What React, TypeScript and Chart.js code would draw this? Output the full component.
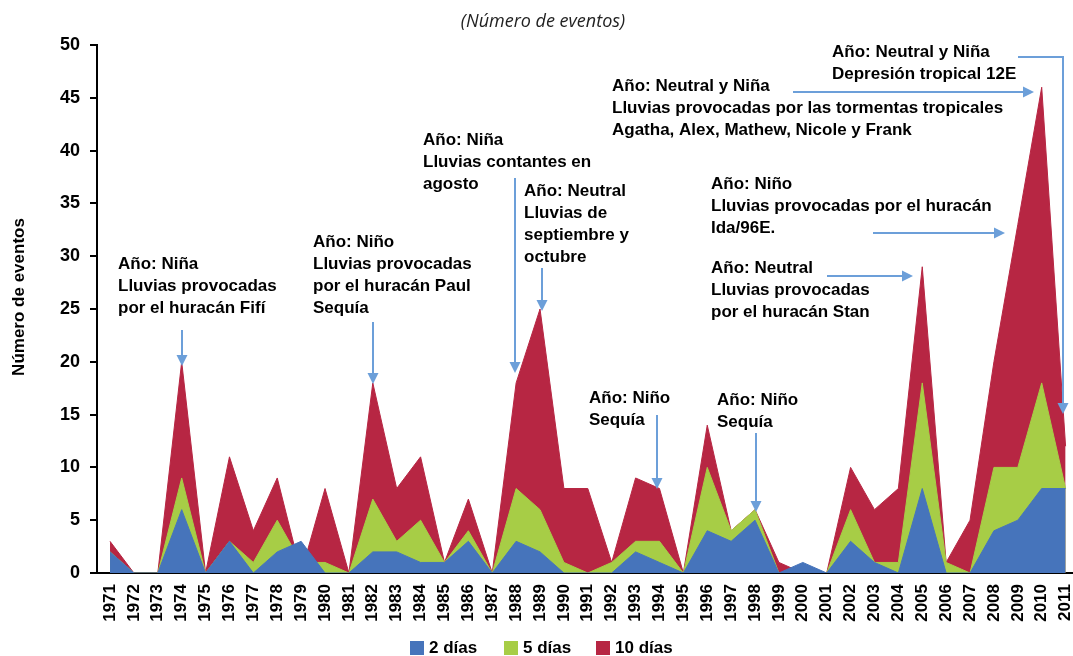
import React, { useEffect, useRef } from 'react';
import { Chart, registerables } from 'chart.js';

Chart.register(...registerables);

const years = [
  1971, 1972, 1973, 1974, 1975, 1976, 1977, 1978, 1979, 1980,
  1981, 1982, 1983, 1984, 1985, 1986, 1987, 1988, 1989, 1990,
  1991, 1992, 1993, 1994, 1995, 1996, 1997, 1998, 1999, 2000,
  2001, 2002, 2003, 2004, 2005, 2006, 2007, 2008, 2009, 2010, 2011,
];

// 2 días
const dias2 = [
  2, 0, 0, 6, 0, 3, 0, 2, 3, 0,
  0, 2, 2, 1, 1, 3, 0, 3, 2, 0,
  0, 0, 2, 1, 0, 4, 3, 5, 0, 1,
  0, 3, 1, 0, 8, 0, 0, 4, 5, 8, 8,
];

// 5 días
const dias5 = [
  2, 0, 0, 9, 0, 3, 1, 5, 1, 1,
  0, 7, 3, 5, 1, 4, 0, 8, 6, 1,
  0, 1, 3, 3, 0, 10, 4, 6, 0, 0,
  0, 6, 1, 1, 18, 1, 0, 10, 10, 18, 8,
];

// 10 días
const dias10 = [
  3, 0, 0, 20, 0, 11, 4, 9, 0, 8,
  0, 18, 8, 11, 1, 7, 0, 18, 25, 8,
  8, 1, 9, 8, 0, 14, 4, 6, 1, 0,
  0, 10, 6, 8, 29, 1, 5, 20, 33, 46, 12,
];

const seriesNames = ['2 días', '5 días', '10 días'];
const yTickValues = [0, 5, 10, 15, 20, 25, 30, 35, 40, 45, 50];

const BLUE = '#4674BB';
const GREEN = '#A7CD46';
const RED = '#B72643';
const ARROW = '#6C9FD9';
const FONT = '"Liberation Sans", Arial, Helvetica, sans-serif';

type Note = { lines: string[]; x: number; y: number };
const notes: Note[] = [
  { lines: ['Año: Niña', 'Lluvias provocadas', 'por el huracán Fifí'], x: 118, y: 269 },
  { lines: ['Año: Niño', 'Lluvias provocadas', 'por el huracán Paul', 'Sequía'], x: 313, y: 247 },
  { lines: ['Año: Niña', 'Lluvias contantes en', 'agosto'], x: 423, y: 145 },
  { lines: ['Año: Neutral', 'Lluvias de', 'septiembre y', 'octubre'], x: 524, y: 196 },
  { lines: ['Año: Neutral y Niña', 'Lluvias provocadas por las tormentas tropicales', 'Agatha, Alex, Mathew, Nicole y Frank'], x: 612, y: 91 },
  { lines: ['Año: Neutral y Niña', 'Depresión tropical 12E'], x: 832, y: 57 },
  { lines: ['Año: Niño', 'Lluvias provocadas por el huracán', 'Ida/96E.'], x: 711, y: 189 },
  { lines: ['Año: Neutral', 'Lluvias provocadas', 'por el huracán Stan'], x: 711, y: 273 },
  { lines: ['Año: Niño', 'Sequía'], x: 589, y: 403 },
  { lines: ['Año: Niño', 'Sequía'], x: 717, y: 405 },
];

// arrow polylines (pixel layout), last point is the tip
const arrows: number[][][] = [
  [[182, 330], [182, 366]],
  [[373, 322], [373, 384]],
  [[515, 178], [515, 373]],
  [[542, 268], [542, 311]],
  [[793, 92], [1034, 92]],
  [[1018, 57], [1063, 57], [1063, 414]],
  [[873, 233], [1005, 233]],
  [[827, 276], [913, 276]],
  [[657, 415], [657, 489]],
  [[756, 433], [756, 512]],
];

const annotationPlugin = {
  id: 'annotations',
  afterDraw(chart: any) {
    const ctx: CanvasRenderingContext2D = chart.ctx;
    ctx.save();
    // title
    ctx.fillStyle = '#222';
    ctx.font = 'italic 18px "Open Sans", sans-serif';
    ctx.textAlign = 'center';
    ctx.textBaseline = 'alphabetic';
    ctx.fillText('(Número de eventos)', 543, 27);

    // y axis title
    ctx.save();
    ctx.translate(24, 297);
    ctx.rotate(-Math.PI / 2);
    ctx.font = 'bold 17px ' + FONT;
    ctx.fillStyle = '#000';
    ctx.textAlign = 'center';
    ctx.fillText('Número de eventos', 0, 0);
    ctx.restore();

    // notes
    ctx.textAlign = 'left';
    ctx.fillStyle = '#000';
    ctx.font = 'bold 17px ' + FONT;
    for (const n of notes) {
      n.lines.forEach((line, i) => {
        ctx.fillText(line, n.x, n.y + i * 22);
      });
    }

    // arrows
    ctx.strokeStyle = ARROW;
    ctx.fillStyle = ARROW;
    ctx.lineWidth = 2;
    for (const pts of arrows) {
      const n = pts.length;
      const [tx, ty] = pts[n - 1];
      const [px, py] = pts[n - 2];
      const ang = Math.atan2(ty - py, tx - px);
      const headLen = 11;
      const headW = 5.5;
      const bx = tx - headLen * Math.cos(ang);
      const by = ty - headLen * Math.sin(ang);
      ctx.beginPath();
      ctx.moveTo(pts[0][0], pts[0][1]);
      for (let i = 1; i < n - 1; i++) ctx.lineTo(pts[i][0], pts[i][1]);
      ctx.lineTo(bx, by);
      ctx.stroke();
      ctx.beginPath();
      ctx.moveTo(tx, ty);
      ctx.lineTo(bx + headW * Math.sin(ang), by - headW * Math.cos(ang));
      ctx.lineTo(bx - headW * Math.sin(ang), by + headW * Math.cos(ang));
      ctx.closePath();
      ctx.fill();
    }

    // legend
    const colors = [BLUE, GREEN, RED];
    const legendX = [410, 504, 596];
    ctx.font = 'bold 17px ' + FONT;
    ctx.textBaseline = 'middle';
    seriesNames.forEach((name, i) => {
      ctx.fillStyle = colors[i];
      ctx.fillRect(legendX[i], 641, 14, 14);
      ctx.fillStyle = '#000';
      ctx.fillText(name, legendX[i] + 19, 648);
    });
    ctx.restore();
  },
};

export default function App() {
  const ref = useRef<HTMLCanvasElement>(null);
  useEffect(() => {
    const canvas = ref.current;
    if (!canvas) return;
    const mk = (d: number[]) => years.map((yr, i) => ({ x: yr, y: d[i] }));
    const ds = (label: string, data: number[], color: string) => ({
      label,
      data: mk(data),
      backgroundColor: color,
      borderColor: color,
      borderWidth: 1,
      fill: 'origin',
      pointRadius: 0,
      tension: 0,
    });
    const chart = new Chart(canvas, {
      type: 'line',
      data: {
        datasets: [
          ds(seriesNames[0], dias2, BLUE),
          ds(seriesNames[1], dias5, GREEN),
          ds(seriesNames[2], dias10, RED),
        ] as any,
      },
      options: {
        responsive: false,
        animation: false,
        layout: { padding: { top: 45, right: 0, bottom: 0, left: 0 } },
        plugins: {
          legend: { display: false },
          tooltip: { enabled: false },
          title: { display: false },
        },
        scales: {
          x: {
            type: 'linear',
            min: years[0] - 0.545,
            max: years[years.length - 1] + 0.31,
            grid: { display: false },
            border: { display: true, color: '#000', width: 2 },
            ticks: {
              stepSize: 1,
              autoSkip: false,
              includeBounds: false,
              maxRotation: 90,
              minRotation: 90,
              padding: 3,
              color: '#000',
              font: { family: FONT, size: 17, weight: 'bold' },
              callback: (v: any) => String(v),
            },
            afterFit: (scale: any) => {
              scale.height = 83;
              scale.paddingLeft = 0;
              scale.paddingRight = 0;
            },
          },
          y: {
            type: 'linear',
            min: 0,
            max: 50,
            grid: { drawOnChartArea: false, drawTicks: true, tickLength: 7, color: '#000', lineWidth: 2 },
            border: { display: true, color: '#000', width: 2 },
            afterBuildTicks: (scale: any) => {
              scale.ticks = yTickValues.map((v) => ({ value: v }));
            },
            ticks: {
              padding: 10,
              color: '#000',
              font: { family: FONT, size: 18, weight: 'bold' },
            },
            afterFit: (scale: any) => {
              scale.width = 97;
            },
          },
        },
      } as any,
      plugins: [annotationPlugin],
    });
    return () => chart.destroy();
  }, []);
  return (
    <div style={{ position: 'fixed', left: 0, top: 0, width: 1073, height: 656, background: '#fff' }}>
      <canvas ref={ref} width={1073} height={656} style={{ width: 1073, height: 656 }} />
    </div>
  );
}
